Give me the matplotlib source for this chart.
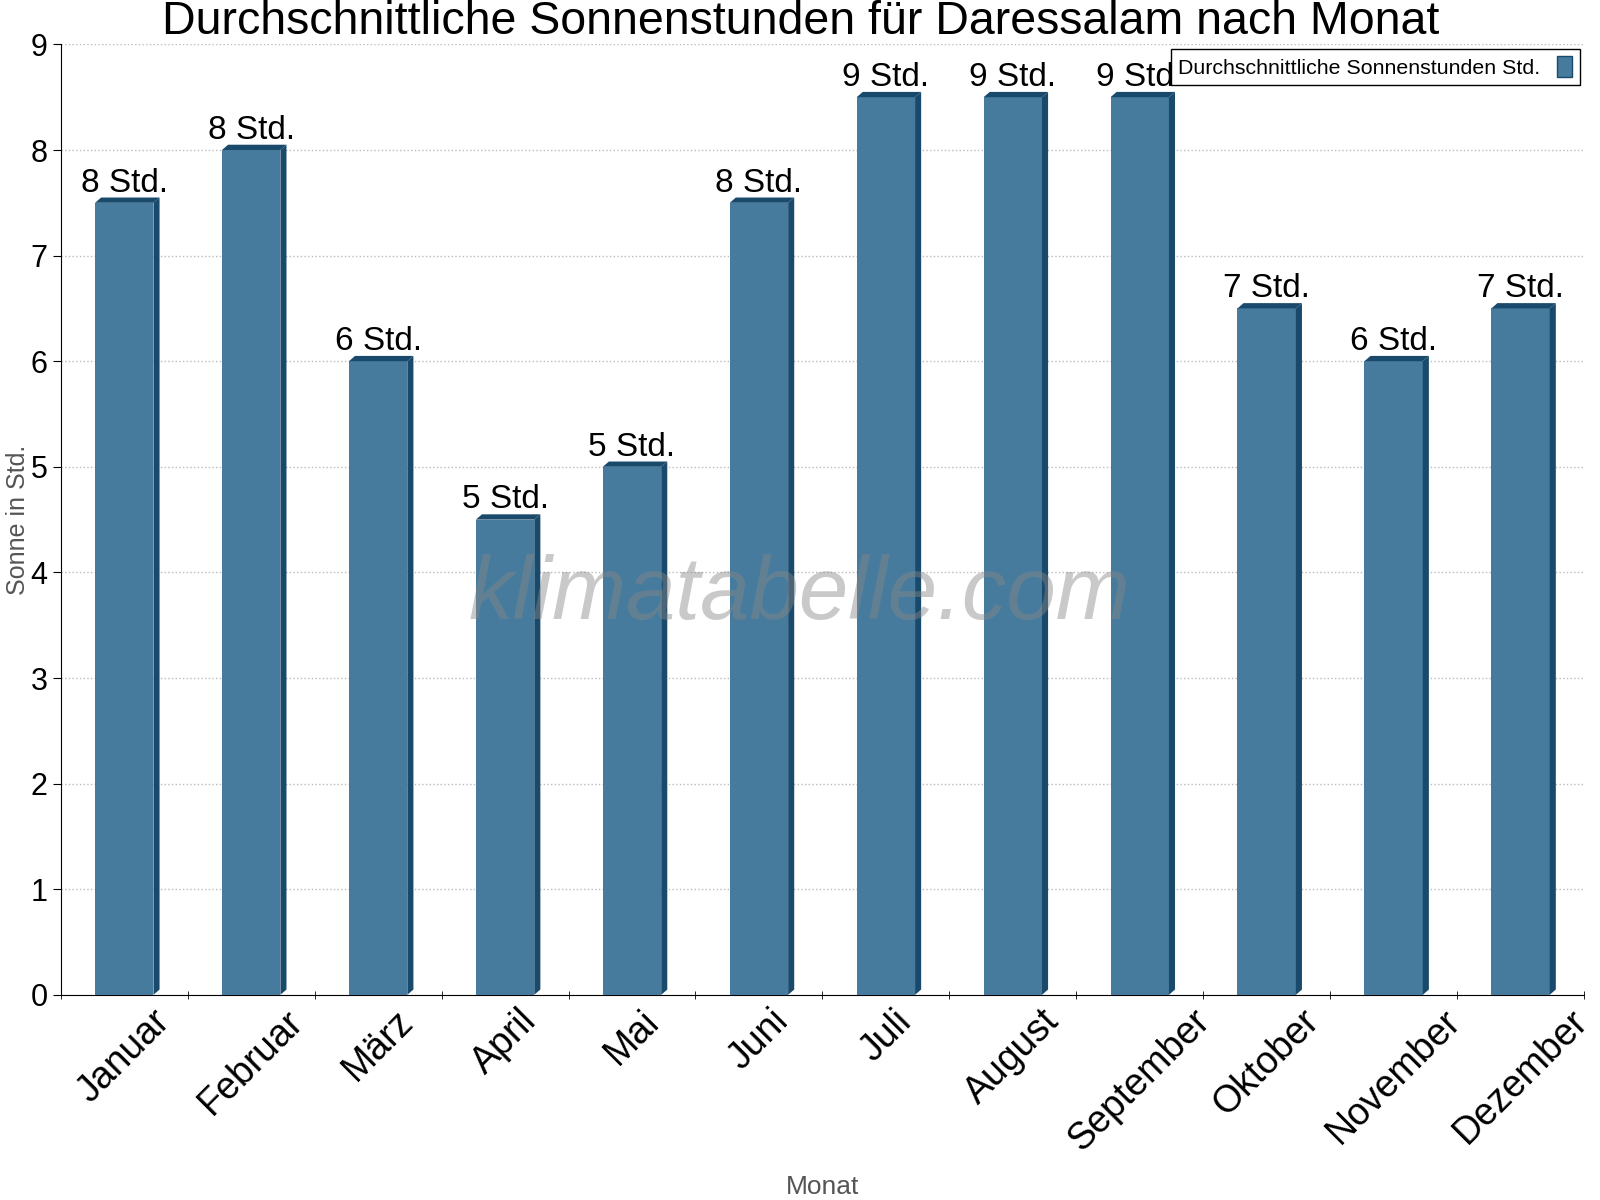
import matplotlib.pyplot as plt
import numpy as np
from matplotlib.patches import Polygon

# Monatswerte Sonnenstunden Daressalam
monate = ['Januar', 'Februar', 'März', 'April', 'Mai', 'Juni', 'Juli',
          'August', 'September', 'Oktober', 'November', 'Dezember']
sonne = [7.5, 8.0, 6.0, 4.5, 5.0, 7.5, 8.5, 8.5, 8.5, 6.5, 6.0, 6.5]
beschriftung = ['8 Std.', '8 Std.', '6 Std.', '5 Std.', '5 Std.', '8 Std.',
                '9 Std.', '9 Std.', '9 Std.', '7 Std.', '6 Std.', '7 Std.']

front = '#467b9d'
dunkel = '#1a4a6b'
schrift = 'Liberation Sans'

fig = plt.figure(figsize=(16, 12), dpi=100)
ax = fig.add_axes([0.038, 0.171, 0.952, 0.792])

x = np.arange(len(monate))
breite = 0.46
dx, dy = 0.048, 0.05

bars = ax.bar(x, sonne, width=breite, color=front, zorder=3,
              label='Durchschnittliche Sonnenstunden Std.')

# 3D-Effekt: Oberseite und rechte Seite
for b in bars:
    x0 = b.get_x()
    x1 = x0 + b.get_width()
    h = b.get_height()
    top = Polygon([(x0, h), (x1, h), (x1 + dx, h + dy), (x0 + dx, h + dy)],
                  closed=True, color=dunkel, zorder=3, lw=0)
    side = Polygon([(x1, 0), (x1, h), (x1 + dx, h + dy), (x1 + dx, dy)],
                   closed=True, color=dunkel, zorder=3, lw=0)
    ax.add_patch(top)
    ax.add_patch(side)

for xi, h, t in zip(x, sonne, beschriftung):
    ax.text(xi, h + dy - 0.01, t, ha='center', va='bottom', fontsize=24,
            family=schrift, zorder=4)

ax.set_xlim(-0.5, len(monate) - 0.5)
ax.set_ylim(0, 9)
ax.set_yticks(range(10))
ax.tick_params(axis='y', labelsize=22, length=6)
for lab in ax.get_yticklabels():
    lab.set_family(schrift)

ax.set_xticks(x)
ax.set_xticklabels(monate, rotation=45, ha='center', fontsize=27,
                   family=schrift)
ax.tick_params(axis='x', length=0, pad=6)
ax.set_xticks(np.arange(-0.5, len(monate)), minor=True)
ax.tick_params(axis='x', which='minor', length=6, direction='inout')

ax.yaxis.grid(True, linestyle=':', color='#bbbbbb', lw=1, zorder=0)
ax.spines['top'].set_visible(False)
ax.spines['right'].set_visible(False)

ax.set_ylabel('Sonne in Std.', fontsize=18, color='#555555', family=schrift,
              labelpad=0)
ax.set_xlabel('Monat', fontsize=19, color='#555555', family=schrift,
              labelpad=12)
ax.set_title('Durchschnittliche Sonnenstunden für Daressalam nach Monat',
             fontsize=33.5, family=schrift, pad=0, x=0.486)

ax.text(0.485, 0.42, 'klimatabelle.com', transform=ax.transAxes, fontsize=64,
        style='italic', color='#888888', alpha=0.45, ha='center', va='center',
        family=schrift, zorder=5)

leg = ax.legend(loc='upper right', markerfirst=False,
                fancybox=False, edgecolor='black', framealpha=1,
                handlelength=0.7, handleheight=1.1, borderaxespad=0.2,
                borderpad=0.35, prop={'family': schrift, 'size': 15.4})
leg.get_frame().set_linewidth(1)
for p in leg.get_patches():
    p.set_edgecolor(dunkel)

fig.savefig('out.png', dpi=100)
